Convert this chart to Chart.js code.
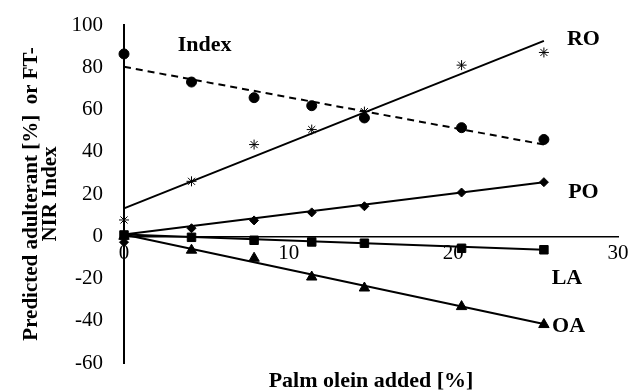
<!DOCTYPE html>
<html>
<head>
<meta charset="utf-8">
<script src="https://cdn.jsdelivr.net/npm/chart.js@4"></script>
<style>
  html, body { margin: 0; padding: 0; background: #fff; }
  .chart-box { width: 630px; height: 391px; }
</style>
</head>
<body>
<div class="chart-box"><canvas id="chart"></canvas></div>
<script>
// palm olein added [%]
const added = [0, 4.1, 7.9, 11.4, 14.6, 20.5, 25.5];

const indexValues = [86.3, 73.0, 65.6, 61.8, 56.0, 51.4, 45.8];
const roValues = [7.7, 26.0, 43.4, 50.5, 59.0, 81.0, 87.0];
const poValues = [-2.8, 3.8, 7.5, 11.3, 14.2, 20.7, 25.6];
const laValues = [0.6, -0.5, -1.9, -2.7, -3.3, -5.7, -6.4];
const oaValues = [0.0, -6.6, -10.4, -19.3, -24.5, -33.3, -41.8];

// trend lines: start and end of each fitted line
const trendX = [0, 25.5];
const indexTrend = [80.2, 43.4];
const roTrend = [13.2, 92.5];
const poTrend = [0.8, 25.6];
const laTrend = [0.8, -6.4];
const oaTrend = [0.8, -41.5];

const xTicks = [0, 10, 20, 30];
const yTicks = [-60, -40, -20, 0, 20, 40, 60, 80, 100];

// series names placed next to the lines (data coordinates)
const seriesNames = ["Index", "RO", "PO", "LA", "OA"];
const nameX = [4.9, 27.9, 27.9, 26.9, 27.0];
const nameY = [90.5, 93, 20.7, -19.8, -42.5];

const xTitle = "Palm olein added [%]";

const pts = (xs, ys) => xs.map((x, i) => ({ x, y: ys[i] }));

const markers = (data, style, radius, extra = {}) => ({
  data,
  showLine: false,
  pointStyle: style,
  pointRadius: radius,
  pointHoverRadius: radius,
  pointBackgroundColor: "#000",
  pointBorderColor: "#000",
  pointBorderWidth: 1,
  clip: false,
  ...extra
});

const trend = (data, dash = []) => ({
  data,
  showLine: true,
  borderColor: "#000",
  borderWidth: 2,
  borderDash: dash,
  pointRadius: 0,
  tension: 0,
  clip: false
});

const serif = "'Liberation Serif', 'Times New Roman', serif";

const textLayer = {
  id: "textLayer",
  afterDatasetsDraw(chart) {
    const { ctx, scales, chartArea } = chart;
    ctx.save();
    ctx.fillStyle = "#000";
    ctx.font = "bold 22px " + serif;
    ctx.textAlign = "center";
    ctx.textBaseline = "middle";
    seriesNames.forEach((name, i) => {
      ctx.fillText(name, scales.x.getPixelForValue(nameX[i]), scales.y.getPixelForValue(nameY[i]));
    });
    ctx.fillText(xTitle, (chartArea.left + chartArea.right) / 2, 381);
    ctx.restore();
  }
};

new Chart(document.getElementById("chart"), {
  type: "scatter",
  data: {
    datasets: [
      trend(pts(trendX, indexTrend), [7, 5]),
      trend(pts(trendX, roTrend)),
      trend(pts(trendX, poTrend)),
      trend(pts(trendX, laTrend)),
      trend(pts(trendX, oaTrend)),
      markers(pts(added, indexValues), "circle", 5),
      markers(pts(added, roValues), "star", 5),
      markers(pts(added, poValues), "rectRot", 4.5),
      markers(pts(added, oaValues), "triangle", 6),
      markers(pts(added, laValues), "rect", 6)
    ]
  },
  options: {
    responsive: true,
    maintainAspectRatio: false,
    animation: false,
    layout: { padding: { top: 25, right: 12, left: 0, bottom: 28 } },
    plugins: {
      legend: { display: false },
      tooltip: { enabled: false }
    },
    scales: {
      x: {
        type: "linear",
        position: { y: 0 },
        min: 0,
        max: 30,
        afterBuildTicks: (scale) => { scale.ticks = xTicks.map((value) => ({ value })); },
        afterFit: (scale) => { scale.paddingLeft = 0; scale.paddingRight = 0; },
        grid: { display: false, drawTicks: false },
        border: { display: true, color: "#000", width: 1.5 },
        ticks: {
          color: "#000",
          padding: 5,
          maxRotation: 0,
          font: { family: serif, size: 21 }
        }
      },
      y: {
        type: "linear",
        position: "left",
        min: -60,
        max: 100,
        afterBuildTicks: (scale) => { scale.ticks = yTicks.map((value) => ({ value })); },
        afterFit: (scale) => {
          // tick padding would otherwise push the plot area in from top and bottom
          scale.width = 124;
          scale.paddingTop = 0;
          scale.paddingBottom = 0;
        },
        grid: { display: false, drawTicks: false },
        border: { display: true, color: "#000", width: 2 },
        ticks: {
          color: "#000",
          padding: 21,
          font: { family: serif, size: 21 }
        },
        title: {
          display: true,
          text: ["Predicted adulterant [%]  or FT-", "NIR Index"],
          color: "#000",
          font: { family: serif, size: 21, weight: "bold", lineHeight: 0.9 },
          padding: { top: 22, bottom: 0 }
        }
      }
    }
  },
  plugins: [textLayer]
});
</script>
</body>
</html>
